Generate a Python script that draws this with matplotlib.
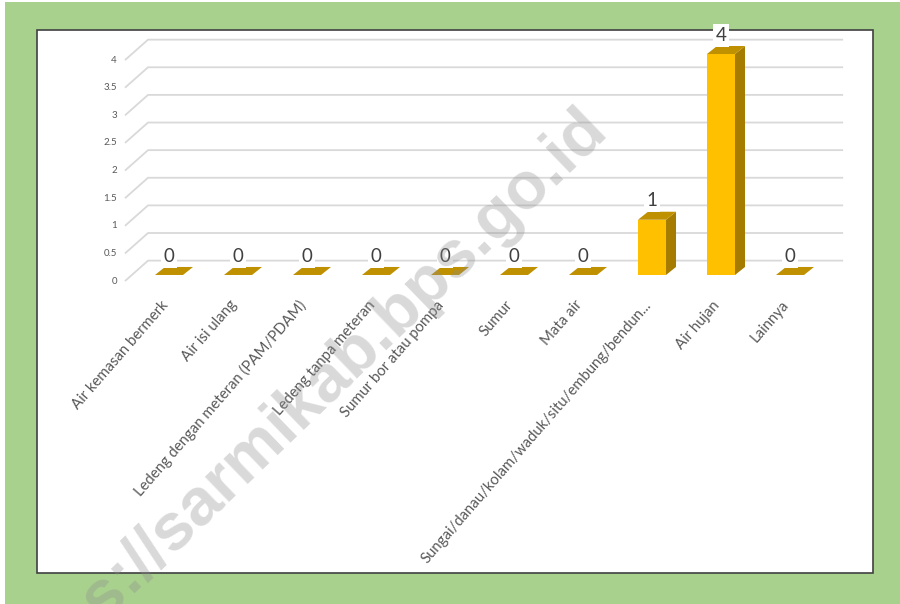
import matplotlib
matplotlib.use("Agg")
import matplotlib.pyplot as plt
from matplotlib.patches import Polygon, Rectangle

# data
categories = ["Air kemasan bermerk", "Air isi ulang", "Ledeng dengan meteran (PAM/PDAM)",
              "Ledeng tanpa meteran", "Sumur bor atau pompa", "Sumur", "Mata air",
              "Sungai/danau/kolam/waduk/situ/embung/bendun...", "Air hujan", "Lainnya"]
values = [0, 0, 0, 0, 0, 0, 0, 1, 4, 0]
y_ticks = [0, 0.5, 1, 1.5, 2, 2.5, 3, 3.5, 4]

FRONT = "#ffc000"
SIDE = "#a67c00"
TOP = "#bf9000"
GRID = "#d9d9d9"

fig = plt.figure(figsize=(9, 6.04), dpi=100)
fig.patch.set_facecolor("#a9d18e")

# thin white margin at left/top of the screenshot
fig.patches.append(Rectangle((0, 0), 5 / 900, 1, transform=fig.transFigure,
                             facecolor="white", edgecolor="none", zorder=-2))
fig.patches.append(Rectangle((0, 1 - 2 / 604), 1, 2 / 604, transform=fig.transFigure,
                             facecolor="white", edgecolor="none", zorder=-2))

# white chart panel with dark frame (behind the axes)
fig.patches.append(Rectangle((37 / 900, 1 - 573 / 604), 836 / 900, 543 / 604,
                             transform=fig.transFigure, facecolor="white",
                             edgecolor="#404040", linewidth=1.2, zorder=-1))

ax = fig.add_axes([86.2 / 900, 1 - 302.6 / 604, 772.8 / 900, 276.2 / 604])
ax.set_xlim(-1.2, 10.0)
ax.set_ylim(-0.5, 4.5)
ax.axis("off")

# fake 3d: bar depth offsets in data units
bar_w = 0.406
dx, dy = 0.145, 0.145

# back wall gridlines + side wall diagonals
for t in y_ticks:
    ax.plot([-0.638, -0.304, 9.77], [t - 0.11, t + 0.26, t + 0.26],
            color=GRID, lw=1.3, zorder=1, solid_capstyle="butt")
    ax.text(-0.754, t - 0.11, f"{t:g}", ha="right", va="center",
            fontsize=7, color="#595959", family="Lato")

x = list(range(len(categories)))
ax.bar(x, values, width=bar_w, color=FRONT, zorder=3)
for i, v in zip(x, values):
    r = i + bar_w / 2
    l = i - bar_w / 2
    ax.add_patch(Polygon([(r, 0), (r + dx, dy), (r + dx, v + dy), (r, v)],
                         closed=True, facecolor=SIDE, edgecolor="none", zorder=3))
    ax.add_patch(Polygon([(l, v), (r, v), (r + dx, v + dy), (l + dx, v + dy)],
                         closed=True, facecolor=TOP, edgecolor="none", zorder=3))
    ax.text(i, v + 0.34, str(v), ha="center", va="center", fontsize=13.5,
            color="#404040", family="Lato", zorder=5, clip_on=False,
            bbox=dict(boxstyle="square,pad=0.15", facecolor="white", edgecolor="none"))

for i, cat in zip(x, categories):
    ax.text(i - 0.05, -0.5, cat, rotation=49, rotation_mode="anchor",
            ha="right", va="center", fontsize=10.7, color="#595959",
            family="Lato", clip_on=False)

# watermark
fig.text(299 / 900, 1 - 407 / 604, "https://sarmikab.bps.go.id", rotation=44,
         rotation_mode="anchor", ha="center", va="center", fontsize=48,
         fontweight="bold", color="#8c8c8c", alpha=0.33,
         family="Liberation Sans", zorder=10)

fig.savefig("out.png", dpi=100, facecolor=fig.get_facecolor())
